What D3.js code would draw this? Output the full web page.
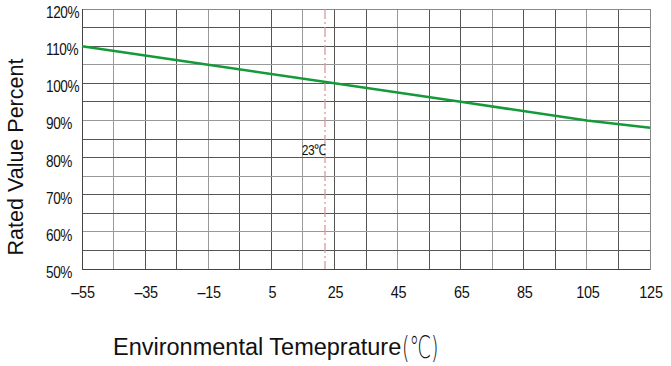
<!DOCTYPE html>
<html><head><meta charset="utf-8">
<script src="https://cdn.jsdelivr.net/npm/d3@7"></script>
<style>body{margin:0;background:#fff}svg{display:block}</style>
</head><body>
<svg id="c" width="671" height="366"></svg>
<script>
const temps = [-55, -15, 25, 65, 105, 125];
const ratedPercent = [110, 105, 100, 95, 90, 88];
const xTickLabels = [-55, -35, -15, 5, 25, 45, 65, 85, 105, 125];
const yTickLabels = [50, 60, 70, 80, 90, 100, 110, 120];
const markerTemp = 22;
const markerLabel = "23℃";
const xTitle = "Environmental Temeprature";
const xUnit = "(℃)";
const yTitle = "Rated Value Percent";

const svg = d3.select("#c");
const m = {l: 82, r: 650, t: 9, b: 269};
const x = d3.scaleLinear().domain([-55, 125]).range([m.l, m.r]);
const y = d3.scaleLinear().domain([50, 120]).range([m.b, m.t]);
const font = "'Liberation Sans',Arial,sans-serif";
const sx = 0.8;

const g = svg.append("g");
// grid
g.selectAll("line.v").data(d3.range(-55, 126, 10)).join("line")
  .attr("x1", d => x(d)).attr("x2", d => x(d)).attr("y1", m.t).attr("y2", m.b)
  .attr("stroke", (d, i) => (i % 3 === 1 ? "#999" : "#555")).attr("stroke-width", 1)
  .attr("shape-rendering", "crispEdges");
g.selectAll("line.h").data(d3.range(50, 121, 5)).join("line")
  .attr("x1", m.l).attr("x2", m.r).attr("y1", d => y(d)).attr("y2", d => y(d))
  .attr("stroke", (d, i) => (i % 3 === 2 ? "#999" : "#555")).attr("stroke-width", 1)
  .attr("shape-rendering", "crispEdges");
g.append("rect").attr("x", m.l).attr("y", m.t).attr("width", m.r - m.l).attr("height", m.b - m.t)
  .attr("fill", "none").attr("stroke", "#888").attr("shape-rendering", "crispEdges");
g.append("line").attr("x1", m.l).attr("x2", m.l).attr("y1", m.t).attr("y2", m.b)
  .attr("stroke", "#444").attr("shape-rendering", "crispEdges");
g.append("line").attr("x1", m.l).attr("x2", m.r).attr("y1", m.b).attr("y2", m.b)
  .attr("stroke", "#444").attr("shape-rendering", "crispEdges");

// marker line
g.append("line").attr("x1", x(markerTemp)).attr("x2", x(markerTemp)).attr("y1", m.t).attr("y2", m.b)
  .attr("stroke", "#d99a9a").attr("stroke-width", 1.3).attr("stroke-dasharray", "10,3,2,3");
g.append("text").attr("transform", `translate(${x(markerTemp) + 1},155) scale(${sx},1)`)
  .attr("text-anchor", "end")
  .attr("font-family", font).attr("font-size", 15).attr("letter-spacing", -0.6).attr("fill", "#111")
  .text(markerLabel);

// data line
const line = d3.line().x((d, i) => x(temps[i])).y(d => y(d));
g.append("path").datum(ratedPercent).attr("d", line).attr("fill", "none")
  .attr("stroke", "#159a3a").attr("stroke-width", 2.5);

// y tick labels
g.selectAll("text.yt").data(yTickLabels).join("text")
  .attr("transform", d => `translate(46,${y(d) + 9}) scale(${sx},1)`).attr("text-anchor", "start")
  .attr("font-family", font).attr("font-size", 17).attr("letter-spacing", -0.5).attr("fill", "#111")
  .text(d => d + "%");
// x tick labels
g.selectAll("text.xt").data(xTickLabels).join("text")
  .attr("transform", d => `translate(${x(d) + 1},298) scale(${sx + 0.05},1)`).attr("text-anchor", "middle")
  .attr("font-family", font).attr("font-size", 17).attr("letter-spacing", -0.3).attr("fill", "#111")
  .text(d => (d < 0 ? "–" + Math.abs(d) : d));

// titles
svg.append("text").attr("x", 113).attr("y", 355)
  .attr("font-family", font).attr("font-size", 23.5).attr("fill", "#111").text(xTitle);
svg.append("text").attr("transform", "translate(402,358) scale(0.62,1)")
  .attr("font-family", "'DejaVu Sans',sans-serif").attr("font-size", 31).attr("font-weight", 200)
  .attr("fill", "#111").text(xUnit);

svg.append("text").attr("transform", "translate(23,157) rotate(-90)").attr("text-anchor", "middle")
  .attr("font-family", font).attr("font-size", 21.5).attr("fill", "#111")
  .text(yTitle);
</script>
</body></html>
